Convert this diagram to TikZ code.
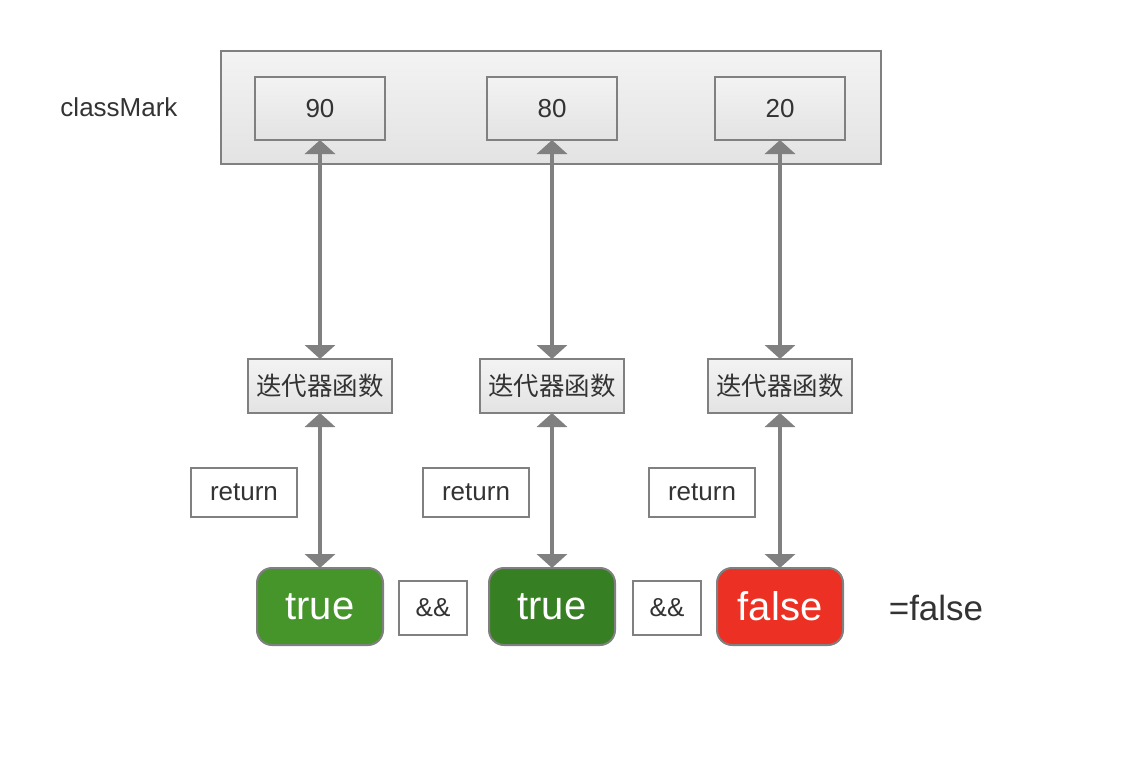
\documentclass[tikz,border=0pt]{standalone}
\usepackage{fontspec}
\setmainfont{Liberation Sans}
\newfontfamily\cjk{Noto Sans CJK SC}
\usetikzlibrary{arrows.meta}
\definecolor{txt}{HTML}{333333}
\definecolor{edge}{HTML}{808080}
\definecolor{gtop}{HTML}{F3F3F3}
\definecolor{gbot}{HTML}{E3E3E3}
\definecolor{greenA}{HTML}{45952B}
\definecolor{greenB}{HTML}{377F23}
\definecolor{redA}{HTML}{EC3124}
\tikzset{
  x=1pt, y=-1pt,
  every node/.style={inner sep=0pt, outer sep=0pt, text=txt},
  container/.style={draw=edge, line width=2pt, top color=gtop, bottom color=gbot, minimum width=660pt, minimum height=113pt},
  valbox/.style={draw=edge, line width=2pt, top color=gtop, bottom color=gbot, minimum width=130pt, minimum height=63pt, font=\fontsize{26}{30}\selectfont},
  iterbox/.style={draw=edge, line width=2pt, top color=gtop, bottom color=gbot, minimum width=144pt, minimum height=54pt, font=\cjk\fontsize{25.5}{30}\selectfont},
  retbox/.style={draw=edge, line width=1.6pt, fill=white, minimum width=106pt, minimum height=49pt, font=\fontsize{26}{30}\selectfont},
  andbox/.style={draw=edge, line width=1.6pt, fill=white, minimum width=68pt, minimum height=54pt, font=\fontsize{26}{30}\selectfont},
  boolbox/.style={draw=edge, line width=2pt, rounded corners=15pt, minimum width=126pt, minimum height=77pt, text=white, font=\fontsize{40}{46}\selectfont},
  conn/.style={draw=edge, line width=4pt, {Triangle[width=30pt,length=14pt]}-{Triangle[width=30pt,length=14pt]}},
  plain/.style={font=\fontsize{26}{30}\selectfont}
}
\begin{document}
\begin{tikzpicture}
\useasboundingbox (0,0) rectangle (1122,758);
\node[container] (cont) at (551,107.5) {};
\node[plain] (cm) at (119,107) {classMark};
\node[valbox] (v1) at (320,108.5) {90};
\node[valbox] (v2) at (552,108.5) {80};
\node[valbox] (v3) at (780,108.5) {20};
\node[iterbox] (i1) at (320,386) {迭代器函数};
\node[iterbox] (i2) at (552,386) {迭代器函数};
\node[iterbox] (i3) at (780,386) {迭代器函数};
\node[retbox] (r1) at (244,492.5) {return};
\node[retbox] (r2) at (476,492.5) {return};
\node[retbox] (r3) at (702,492.5) {return};
\node[boolbox, fill=greenA] (b1) at (320,606.5) {true};
\node[boolbox, fill=greenB] (b2) at (552,606.5) {true};
\node[boolbox, fill=redA] (b3) at (780,606.5) {false};
\node[andbox] (a1) at (433,608) {\&\&};
\node[andbox] (a2) at (667,608) {\&\&};
\node[font=\fontsize{35}{40}\selectfont] (res) at (936,608) {=false};
\draw[conn] (v1.south) -- (i1.north);
\draw[conn] (v2.south) -- (i2.north);
\draw[conn] (v3.south) -- (i3.north);
\draw[conn] (i1.south) -- (b1.north);
\draw[conn] (i2.south) -- (b2.north);
\draw[conn] (i3.south) -- (b3.north);
\end{tikzpicture}
\end{document}
